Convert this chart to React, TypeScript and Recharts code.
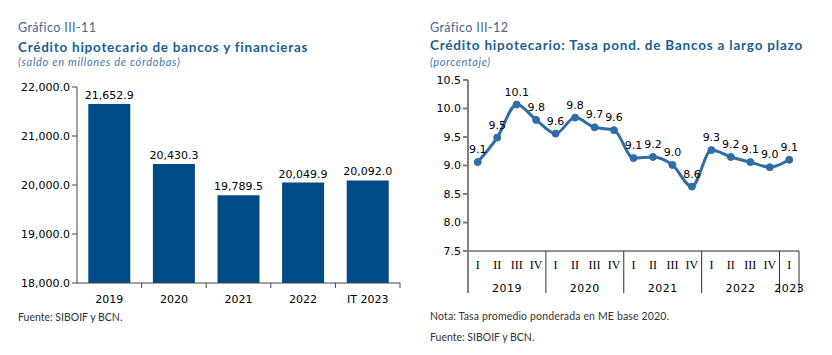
import React from "react";
import {
  BarChart,
  Bar,
  LineChart,
  Line,
  XAxis,
  YAxis,
  LabelList,
} from "recharts";

// Gráfico III-11: saldo en millones de córdobas
const balanceYears = ["2019", "2020", "2021", "2022", "IT 2023"];
const balances = [21652.9, 20430.3, 19789.5, 20049.9, 20092.0];
const balanceTicks = [18000, 19000, 20000, 21000, 22000];

// Gráfico III-12: tasa ponderada trimestral
const quarters = ["I", "II", "III", "IV", "I", "II", "III", "IV", "I", "II", "III", "IV", "I", "II", "III", "IV", "I"];
const quarterYears = [
  "2019", "2019", "2019", "2019",
  "2020", "2020", "2020", "2020",
  "2021", "2021", "2021", "2021",
  "2022", "2022", "2022", "2022",
  "2023",
];
const rates = [9.06, 9.49, 10.07, 9.8, 9.56, 9.84, 9.67, 9.62, 9.13, 9.15, 9.01, 8.63, 9.27, 9.15, 9.06, 8.97, 9.1];
const rateTicks = [7.5, 8.0, 8.5, 9.0, 9.5, 10.0, 10.5];

const barData = balanceYears.map((y, i) => ({ year: y, value: balances[i] }));
const lineData = quarters.map((q, i) => ({ key: `${quarterYears[i]}-${q}-${i}`, q, year: quarterYears[i], value: rates[i] }));

const SANS = "'DejaVu Sans', Verdana, sans-serif";
const TITLE = "Lato, 'Open Sans', sans-serif";
const BLUE_BAR = "#004a85";
const BLUE_LINE = "#2f6ea5";

const fmtThousands = (v: number) =>
  v.toLocaleString("en-US", { minimumFractionDigits: 1, maximumFractionDigits: 1 });

// ticks de la gráfica de barras: etiqueta centrada + marca en el borde derecho de la categoría
function BarTick(props: any) {
  const { x, y, payload } = props;
  const half = payload?.offset ?? 0;
  return (
    <g>
      <line x1={x + half} x2={x + half} y1={y - 12} y2={y - 7} stroke="#444" />
      <text x={x} y={y} dy="0.71em" textAnchor="middle" fontSize={11} fontFamily={SANS} fill="#000">
        {payload.value}
      </text>
    </g>
  );
}

// eje de dos niveles: trimestre (serif) y año con separadores
function QuarterTick(props: any) {
  const { x, y, payload, index } = props;
  const half = payload?.offset ?? 0;
  const yr = quarterYears[index];
  const first = index === 0 || quarterYears[index - 1] !== yr;
  const last = index === quarterYears.length - 1 || quarterYears[index + 1] !== yr;
  const groupSize = quarterYears.filter((v) => v === yr).length;
  return (
    <g>
      {index === 0 && <line x1={x - half} x2={x - half} y1={y} y2={y + 42} stroke="#808080" strokeWidth={2} />}
      {last && <line x1={x + half} x2={x + half} y1={y} y2={y + 42} stroke="#333" />}
      <text x={x} y={y + 18} textAnchor="middle" fontSize={12} fontFamily="'Liberation Serif', serif" fill="#000">
        {quarters[index]}
      </text>
      {first && (
        <text
          x={x + (groupSize - 1) * half}
          y={y + 41}
          textAnchor="middle"
          fontSize={11}
          fontFamily={SANS}
          letterSpacing={0.5}
          fill="#000"
        >
          {yr}
        </text>
      )}
    </g>
  );
}

export default function App() {
  return (
    <div style={{ position: "absolute", left: 0, top: 0, width: 832, height: 355, background: "#fff", overflow: "hidden" }}>
      <svg width={832} height={355} style={{ position: "absolute", left: 0, top: 0 }}>
        <text x={18} y={32} fontSize={12.5} letterSpacing={0.4} fontFamily={TITLE} fill="#4a6690">
          Gráfico III-11
        </text>
        <text x={18} y={52} fontSize={13.5} fontWeight={700} letterSpacing={0.75} fontFamily={TITLE} fill="#1b5e93">
          Crédito hipotecario de bancos y financieras
        </text>
        <text x={18} y={66} fontSize={11} fontStyle="italic" letterSpacing={0.7} fontFamily={TITLE} fill="#3f78b0">
          (saldo en millones de córdobas)
        </text>
        <text x={18} y={321} fontSize={10.5} fontFamily={TITLE} fill="#333">Fuente: SIBOIF y BCN.</text>

        <text x={430} y={32} fontSize={12.5} letterSpacing={0.4} fontFamily={TITLE} fill="#4a6690">
          Gráfico III-12
        </text>
        <text x={430} y={50} fontSize={13.5} fontWeight={700} letterSpacing={0.8} fontFamily={TITLE} fill="#1b5e93">
          Crédito hipotecario: Tasa pond. de Bancos a largo plazo
        </text>
        <text x={430} y={66} fontSize={11} fontStyle="italic" letterSpacing={0.6} fontFamily={TITLE} fill="#3f78b0">
          (porcentaje)
        </text>
        <text x={430} y={320} fontSize={10.5} letterSpacing={0.15} fontFamily={TITLE} fill="#333">
          Nota: Tasa promedio ponderada en ME base 2020.
        </text>
        <text x={430} y={341} fontSize={10.5} fontFamily={TITLE} fill="#333">Fuente: SIBOIF y BCN.</text>
      </svg>

      <div style={{ position: "absolute", left: 0, top: 70 }}>
        <BarChart
          width={420}
          height={250}
          data={barData}
          margin={{ top: 17, right: 20, bottom: 0, left: 0 }}
          barCategoryGap="17.5%"
        >
          <XAxis
            dataKey="year"
            height={37}
            stroke="#444"
            tickLine={false}
            tickSize={5}
            tickMargin={7}
            tick={<BarTick />}
            interval={0}
          />
          <YAxis
            width={77}
            domain={[18000, 22000]}
            ticks={balanceTicks}
            tickFormatter={fmtThousands}
            stroke="#444"
            tickSize={5}
            tickMargin={2}
            allowDataOverflow
            tick={{ fontSize: 11, fontFamily: SANS, fill: "#000" }}
          />
          <Bar dataKey="value" fill={BLUE_BAR} isAnimationActive={false}>
            <LabelList
              dataKey="value"
              position="top"
              offset={5}
              formatter={(v: any) => fmtThousands(Number(v))}
              style={{ fontSize: 11, fontFamily: SANS, fill: "#000" }}
            />
          </Bar>
        </BarChart>
      </div>

      <div style={{ position: "absolute", left: 420, top: 60 }}>
        <LineChart width={412} height={250} data={lineData} margin={{ top: 20, right: 33, bottom: 0, left: 0 }}>
          <XAxis
            dataKey="key"
            scale="band"
            height={59}
            stroke="#222"
            tickLine={false}
            tickSize={0}
            tickMargin={0}
            tick={<QuarterTick />}
            interval={0}
          />
          <YAxis
            width={48}
            domain={[7.5, 10.5]}
            ticks={rateTicks}
            tickFormatter={(v: number) => v.toFixed(1)}
            stroke="#808080"
            strokeWidth={2}
            tickSize={5}
            tickMargin={2}
            tick={{ fontSize: 11, fontFamily: SANS, fill: "#000" }}
          />
          <Line
            type="monotone"
            dataKey="value"
            stroke={BLUE_LINE}
            strokeWidth={3}
            dot={{ r: 3.5, fill: BLUE_LINE, stroke: BLUE_LINE, strokeWidth: 1 }}
            isAnimationActive={false}
          >
            <LabelList
              dataKey="value"
              position="top"
              offset={9}
              formatter={(v: any) => Number(v).toFixed(1)}
              style={{ fontSize: 11, fontFamily: SANS, fill: "#000" }}
            />
          </Line>
        </LineChart>
      </div>
    </div>
  );
}
